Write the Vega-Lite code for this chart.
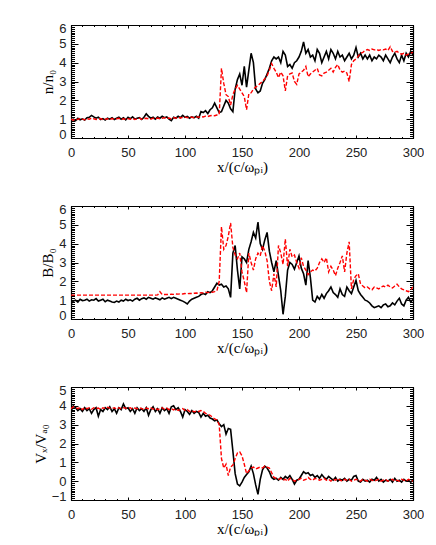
{
"$schema":"https://vega.github.io/schema/vega-lite/v6.json",
"padding":{"left":33,"top":22,"right":0,"bottom":0},
"background":"white",
"spacing":68,
"bounds":"flush",
"config":{"view":{"stroke":null},"axis":{"grid":false,"domainColor":"black","domainWidth":1.2,"tickColor":"black","tickWidth":1,"labelFont":"Liberation Sans","labelFontSize":13,"labelColor":"#222","labelOverlap":false,"titleFont":"Liberation Serif","titleFontSize":15,"titleFontWeight":"normal","titleColor":"black"}},
"data":{"values":[
{"x":0,"n":0.95,"nr":1.0,"b":0.8,"br":1.27,"v":3.7,"vr":3.85},
{"x":2,"n":1.0,"nr":0.95,"b":0.95,"br":1.27,"v":4.0,"vr":3.95},
{"x":4,"n":0.92,"nr":1.02,"b":1.0,"br":1.27,"v":3.9,"vr":3.9},
{"x":6,"n":1.05,"nr":0.98,"b":0.9,"br":1.27,"v":3.75,"vr":3.85},
{"x":8,"n":0.97,"nr":1.05,"b":1.05,"br":1.27,"v":3.85,"vr":3.92},
{"x":10,"n":1.02,"nr":1.0,"b":0.98,"br":1.27,"v":3.7,"vr":3.8},
{"x":12,"n":0.95,"nr":0.97,"b":1.0,"br":1.27,"v":3.9,"vr":3.9},
{"x":14,"n":1.08,"nr":1.03,"b":1.05,"br":1.27,"v":3.75,"vr":3.85},
{"x":16,"n":1.1,"nr":1.0,"b":0.95,"br":1.27,"v":3.85,"vr":3.9},
{"x":18,"n":1.2,"nr":1.05,"b":1.02,"br":1.27,"v":3.6,"vr":3.82},
{"x":20,"n":1.12,"nr":1.02,"b":1.0,"br":1.27,"v":3.8,"vr":3.9},
{"x":22,"n":1.05,"nr":0.98,"b":1.08,"br":1.27,"v":3.9,"vr":3.85},
{"x":24,"n":1.1,"nr":1.0,"b":0.95,"br":1.27,"v":3.45,"vr":3.88},
{"x":26,"n":0.98,"nr":1.03,"b":1.0,"br":1.27,"v":3.8,"vr":3.8},
{"x":28,"n":1.03,"nr":0.97,"b":1.05,"br":1.27,"v":3.7,"vr":3.9},
{"x":30,"n":0.95,"nr":1.0,"b":0.92,"br":1.27,"v":3.9,"vr":3.85},
{"x":32,"n":1.05,"nr":1.02,"b":1.0,"br":1.27,"v":3.8,"vr":3.92},
{"x":34,"n":1.0,"nr":0.98,"b":0.95,"br":1.27,"v":3.95,"vr":3.88},
{"x":36,"n":1.08,"nr":1.03,"b":0.9,"br":1.27,"v":3.7,"vr":3.85},
{"x":38,"n":0.98,"nr":1.0,"b":0.88,"br":1.27,"v":3.85,"vr":3.9},
{"x":40,"n":1.05,"nr":1.02,"b":0.95,"br":1.27,"v":3.6,"vr":3.82},
{"x":42,"n":1.1,"nr":1.05,"b":0.9,"br":1.27,"v":3.9,"vr":3.9},
{"x":44,"n":1.0,"nr":0.98,"b":1.0,"br":1.27,"v":3.8,"vr":3.85},
{"x":46,"n":1.08,"nr":1.02,"b":0.95,"br":1.27,"v":4.1,"vr":3.9},
{"x":48,"n":0.96,"nr":1.0,"b":1.05,"br":1.27,"v":3.85,"vr":3.88},
{"x":50,"n":1.1,"nr":1.03,"b":0.98,"br":1.27,"v":3.9,"vr":3.85},
{"x":52,"n":1.02,"nr":1.0,"b":1.02,"br":1.27,"v":3.7,"vr":3.9},
{"x":54,"n":1.12,"nr":1.05,"b":0.95,"br":1.27,"v":3.85,"vr":3.82},
{"x":56,"n":1.0,"nr":0.98,"b":1.05,"br":1.27,"v":3.6,"vr":3.88},
{"x":58,"n":1.05,"nr":1.02,"b":1.1,"br":1.27,"v":3.9,"vr":3.85},
{"x":60,"n":1.08,"nr":1.05,"b":1.0,"br":1.27,"v":3.75,"vr":3.9},
{"x":62,"n":0.98,"nr":1.0,"b":1.08,"br":1.27,"v":3.85,"vr":3.85},
{"x":64,"n":1.1,"nr":1.03,"b":1.12,"br":1.27,"v":3.7,"vr":3.8},
{"x":66,"n":1.28,"nr":1.05,"b":1.05,"br":1.27,"v":3.9,"vr":3.88},
{"x":68,"n":1.15,"nr":1.02,"b":1.15,"br":1.27,"v":3.5,"vr":3.85},
{"x":70,"n":1.05,"nr":1.0,"b":1.1,"br":1.27,"v":3.8,"vr":3.9},
{"x":72,"n":1.1,"nr":1.05,"b":1.05,"br":1.27,"v":3.95,"vr":3.82},
{"x":74,"n":1.0,"nr":1.02,"b":1.12,"br":1.27,"v":3.7,"vr":3.88},
{"x":76,"n":1.12,"nr":1.06,"b":1.08,"br":1.28,"v":3.85,"vr":3.8},
{"x":78,"n":1.05,"nr":1.02,"b":1.02,"br":1.45,"v":3.6,"vr":3.85},
{"x":80,"n":1.15,"nr":1.05,"b":1.12,"br":1.3,"v":3.9,"vr":3.9},
{"x":82,"n":1.08,"nr":1.08,"b":1.05,"br":1.3,"v":3.75,"vr":3.82},
{"x":84,"n":1.12,"nr":1.04,"b":1.1,"br":1.31,"v":3.85,"vr":3.88},
{"x":86,"n":1.0,"nr":1.06,"b":1.15,"br":1.3,"v":3.6,"vr":3.8},
{"x":88,"n":0.92,"nr":1.02,"b":1.08,"br":1.32,"v":3.95,"vr":3.85},
{"x":90,"n":1.1,"nr":1.08,"b":1.15,"br":1.31,"v":4.0,"vr":3.78},
{"x":92,"n":1.05,"nr":1.05,"b":1.1,"br":1.33,"v":3.8,"vr":3.85},
{"x":94,"n":1.15,"nr":1.1,"b":1.05,"br":1.32,"v":3.9,"vr":3.75},
{"x":96,"n":1.08,"nr":1.06,"b":1.0,"br":1.34,"v":3.7,"vr":3.8},
{"x":98,"n":1.2,"nr":1.1,"b":0.95,"br":1.33,"v":3.4,"vr":3.85},
{"x":100,"n":1.1,"nr":1.12,"b":0.88,"br":1.35,"v":3.8,"vr":3.75},
{"x":102,"n":1.15,"nr":1.08,"b":0.8,"br":1.34,"v":3.7,"vr":3.8},
{"x":104,"n":1.05,"nr":1.12,"b":0.95,"br":1.36,"v":3.55,"vr":3.7},
{"x":106,"n":1.12,"nr":1.1,"b":1.05,"br":1.35,"v":3.75,"vr":3.75},
{"x":108,"n":1.08,"nr":1.08,"b":1.1,"br":1.37,"v":3.6,"vr":3.68},
{"x":110,"n":1.15,"nr":1.12,"b":1.15,"br":1.38,"v":3.7,"vr":3.72},
{"x":112,"n":1.05,"nr":1.1,"b":1.2,"br":1.36,"v":3.65,"vr":3.7},
{"x":114,"n":1.4,"nr":1.14,"b":1.3,"br":1.4,"v":3.4,"vr":3.75},
{"x":116,"n":1.35,"nr":1.12,"b":1.35,"br":1.38,"v":3.6,"vr":3.7},
{"x":118,"n":1.45,"nr":1.16,"b":1.3,"br":1.42,"v":3.45,"vr":3.6},
{"x":120,"n":1.3,"nr":1.14,"b":1.45,"br":1.4,"v":3.5,"vr":3.55},
{"x":122,"n":1.5,"nr":1.18,"b":1.4,"br":1.43,"v":3.35,"vr":3.5},
{"x":124,"n":1.6,"nr":1.2,"b":1.5,"br":1.42,"v":3.3,"vr":3.4},
{"x":126,"n":1.85,"nr":1.18,"b":1.7,"br":1.45,"v":3.2,"vr":3.3},
{"x":128,"n":1.6,"nr":1.22,"b":1.9,"br":1.5,"v":3.25,"vr":3.25},
{"x":130,"n":1.35,"nr":1.25,"b":1.8,"br":2.0,"v":3.05,"vr":3.0},
{"x":132,"n":1.4,"nr":3.7,"b":1.85,"br":4.9,"v":2.9,"vr":1.2},
{"x":134,"n":1.7,"nr":2.9,"b":1.7,"br":3.7,"v":3.0,"vr":0.7},
{"x":136,"n":2.0,"nr":2.3,"b":1.75,"br":3.9,"v":2.5,"vr":0.9},
{"x":138,"n":1.85,"nr":2.2,"b":1.6,"br":4.4,"v":2.8,"vr":0.3},
{"x":140,"n":1.55,"nr":1.75,"b":1.15,"br":5.1,"v":2.75,"vr":0.75},
{"x":142,"n":1.4,"nr":2.3,"b":3.5,"br":3.8,"v":1.6,"vr":0.85},
{"x":144,"n":2.6,"nr":2.6,"b":3.9,"br":3.4,"v":0.4,"vr":1.2},
{"x":146,"n":3.1,"nr":2.8,"b":2.6,"br":3.2,"v":-0.15,"vr":1.5},
{"x":148,"n":3.4,"nr":2.6,"b":1.6,"br":3.5,"v":-0.25,"vr":1.55},
{"x":150,"n":2.8,"nr":2.4,"b":3.3,"br":2.5,"v":-0.05,"vr":1.35},
{"x":152,"n":3.8,"nr":2.2,"b":3.2,"br":2.0,"v":0.2,"vr":0.9},
{"x":154,"n":2.7,"nr":1.5,"b":3.0,"br":1.4,"v":0.35,"vr":0.4},
{"x":156,"n":3.6,"nr":2.35,"b":3.7,"br":3.5,"v":0.5,"vr":0.55},
{"x":158,"n":4.5,"nr":2.4,"b":4.1,"br":3.0,"v":0.8,"vr":0.7},
{"x":160,"n":4.0,"nr":2.6,"b":4.6,"br":2.6,"v":0.4,"vr":0.75},
{"x":162,"n":2.6,"nr":2.7,"b":4.3,"br":3.2,"v":-0.2,"vr":0.65},
{"x":164,"n":2.4,"nr":2.8,"b":5.15,"br":3.5,"v":-0.7,"vr":0.7},
{"x":166,"n":2.5,"nr":2.9,"b":4.0,"br":3.35,"v":0.1,"vr":0.75},
{"x":168,"n":2.9,"nr":3.0,"b":3.7,"br":3.9,"v":0.6,"vr":0.7},
{"x":170,"n":3.1,"nr":3.15,"b":4.2,"br":3.6,"v":0.8,"vr":0.8},
{"x":172,"n":3.4,"nr":3.3,"b":4.6,"br":3.1,"v":0.7,"vr":0.75},
{"x":174,"n":3.7,"nr":3.6,"b":3.6,"br":2.0,"v":0.5,"vr":0.7},
{"x":176,"n":4.1,"nr":3.95,"b":3.0,"br":1.5,"v":0.2,"vr":0.45},
{"x":178,"n":4.3,"nr":3.7,"b":2.5,"br":2.4,"v":0.1,"vr":0.2},
{"x":180,"n":4.2,"nr":3.5,"b":3.1,"br":1.7,"v":0.15,"vr":0.15},
{"x":182,"n":4.3,"nr":3.2,"b":2.3,"br":3.9,"v":0.05,"vr":0.1},
{"x":184,"n":4.0,"nr":3.5,"b":1.5,"br":3.5,"v":0.2,"vr":0.15},
{"x":186,"n":4.6,"nr":3.3,"b":0.25,"br":2.9,"v":0.1,"vr":0.05},
{"x":188,"n":4.4,"nr":2.5,"b":1.2,"br":4.25,"v":0.25,"vr":0.1},
{"x":190,"n":3.8,"nr":3.3,"b":2.6,"br":2.8,"v":0.15,"vr":0.0},
{"x":192,"n":3.9,"nr":3.4,"b":3.0,"br":3.7,"v":0.3,"vr":0.15},
{"x":194,"n":3.7,"nr":3.45,"b":2.9,"br":3.3,"v":0.1,"vr":0.1},
{"x":196,"n":4.0,"nr":3.0,"b":2.65,"br":3.4,"v":-0.15,"vr":0.0},
{"x":198,"n":4.1,"nr":2.85,"b":3.0,"br":3.0,"v":0.05,"vr":0.05},
{"x":200,"n":4.3,"nr":3.4,"b":3.35,"br":2.7,"v":0.1,"vr":0.1},
{"x":202,"n":4.6,"nr":3.5,"b":2.7,"br":3.25,"v":0.3,"vr":0.15},
{"x":204,"n":5.1,"nr":3.6,"b":2.4,"br":2.8,"v":0.5,"vr":0.05},
{"x":206,"n":4.5,"nr":3.8,"b":1.8,"br":2.6,"v":0.4,"vr":0.1},
{"x":208,"n":4.7,"nr":3.25,"b":3.1,"br":2.35,"v":0.45,"vr":0.2},
{"x":210,"n":4.3,"nr":3.4,"b":2.2,"br":2.5,"v":0.3,"vr":0.1},
{"x":212,"n":4.4,"nr":3.5,"b":1.0,"br":2.6,"v":0.35,"vr":0.05},
{"x":214,"n":4.1,"nr":3.6,"b":0.9,"br":2.55,"v":0.2,"vr":0.15},
{"x":216,"n":4.7,"nr":3.7,"b":1.2,"br":2.7,"v":0.3,"vr":0.1},
{"x":218,"n":4.5,"nr":3.35,"b":1.05,"br":3.0,"v":0.15,"vr":0.05},
{"x":220,"n":4.0,"nr":3.3,"b":1.3,"br":3.2,"v":0.35,"vr":0.1},
{"x":222,"n":4.3,"nr":3.45,"b":1.1,"br":3.0,"v":0.2,"vr":0.15},
{"x":224,"n":4.6,"nr":3.5,"b":1.35,"br":3.25,"v":0.1,"vr":0.05},
{"x":226,"n":4.2,"nr":3.6,"b":1.5,"br":2.5,"v":0.25,"vr":0.1},
{"x":228,"n":4.7,"nr":3.7,"b":1.7,"br":2.8,"v":0.15,"vr":0.0},
{"x":230,"n":4.5,"nr":3.5,"b":1.4,"br":2.6,"v":0.05,"vr":0.1},
{"x":232,"n":4.2,"nr":3.75,"b":1.3,"br":2.3,"v":0.2,"vr":0.05},
{"x":234,"n":4.6,"nr":3.9,"b":1.15,"br":2.7,"v":0.0,"vr":0.15},
{"x":236,"n":4.3,"nr":3.6,"b":1.6,"br":3.0,"v":0.1,"vr":0.05},
{"x":238,"n":4.4,"nr":3.5,"b":1.3,"br":3.35,"v":0.05,"vr":0.0},
{"x":240,"n":4.1,"nr":3.55,"b":1.2,"br":2.5,"v":0.15,"vr":0.1},
{"x":242,"n":4.3,"nr":3.45,"b":1.7,"br":3.5,"v":0.0,"vr":0.05},
{"x":244,"n":4.5,"nr":3.0,"b":1.5,"br":4.1,"v":0.1,"vr":0.1},
{"x":246,"n":4.2,"nr":3.9,"b":1.35,"br":1.6,"v":0.05,"vr":0.0},
{"x":248,"n":4.4,"nr":4.1,"b":1.7,"br":2.1,"v":0.25,"vr":0.05},
{"x":250,"n":4.8,"nr":4.2,"b":2.05,"br":2.3,"v":0.3,"vr":0.1},
{"x":252,"n":4.3,"nr":4.35,"b":1.5,"br":2.4,"v":0.0,"vr":0.05},
{"x":254,"n":4.5,"nr":4.5,"b":1.3,"br":1.85,"v":-0.05,"vr":0.0},
{"x":256,"n":4.2,"nr":4.55,"b":1.15,"br":1.75,"v":0.1,"vr":0.1},
{"x":258,"n":4.4,"nr":4.65,"b":1.0,"br":1.65,"v":0.0,"vr":0.05},
{"x":260,"n":4.2,"nr":4.7,"b":0.95,"br":1.7,"v":0.05,"vr":0.0},
{"x":262,"n":4.4,"nr":4.65,"b":0.85,"br":1.6,"v":-0.05,"vr":0.1},
{"x":264,"n":4.1,"nr":4.72,"b":0.7,"br":1.55,"v":0.1,"vr":0.05},
{"x":266,"n":4.3,"nr":4.68,"b":0.6,"br":1.7,"v":0.05,"vr":0.0},
{"x":268,"n":4.2,"nr":4.7,"b":0.65,"br":1.65,"v":0.2,"vr":0.05},
{"x":270,"n":4.4,"nr":4.65,"b":0.7,"br":1.6,"v":0.0,"vr":0.1},
{"x":272,"n":4.3,"nr":4.7,"b":0.6,"br":1.7,"v":0.1,"vr":0.0},
{"x":274,"n":4.1,"nr":4.68,"b":0.75,"br":1.75,"v":-0.05,"vr":0.05},
{"x":276,"n":4.4,"nr":4.72,"b":0.8,"br":1.7,"v":0.05,"vr":0.1},
{"x":278,"n":4.2,"nr":4.65,"b":0.65,"br":1.8,"v":0.0,"vr":0.0},
{"x":280,"n":4.0,"nr":4.85,"b":0.7,"br":1.7,"v":0.1,"vr":0.05},
{"x":282,"n":4.3,"nr":4.6,"b":0.85,"br":1.65,"v":-0.05,"vr":0.1},
{"x":284,"n":4.5,"nr":4.55,"b":0.75,"br":1.75,"v":0.15,"vr":0.0},
{"x":286,"n":4.2,"nr":4.6,"b":0.95,"br":1.85,"v":0.0,"vr":0.05},
{"x":288,"n":4.0,"nr":4.5,"b":1.1,"br":1.7,"v":0.05,"vr":0.0},
{"x":290,"n":4.4,"nr":4.45,"b":0.8,"br":1.6,"v":-0.05,"vr":0.1},
{"x":292,"n":4.1,"nr":4.5,"b":0.7,"br":1.55,"v":0.1,"vr":0.05},
{"x":294,"n":4.5,"nr":4.4,"b":1.0,"br":1.5,"v":0.0,"vr":0.0},
{"x":296,"n":4.3,"nr":4.45,"b":1.15,"br":1.45,"v":0.05,"vr":0.1},
{"x":298,"n":4.6,"nr":4.5,"b":0.9,"br":1.55,"v":-0.05,"vr":0.05},
{"x":300,"n":4.4,"nr":4.55,"b":1.05,"br":1.7,"v":0.05,"vr":0.0}
]},
"vconcat":[
{"width":342,"height":113,
 "resolve":{"axis":{"x":"independent","y":"independent"}},
 "layer":[
  {"mark":{"type":"line","color":"black","strokeWidth":1.6,"clip":true},
   "encoding":{
    "x":{"field":"x","type":"quantitative","scale":{"domain":[0,300],"nice":false,"zero":false},"axis":{"orient":"bottom","values":[0,50,100,150,200,250,300],"tickSize":-3,"labelPadding":11,"labelFlush":false,"title":"x/(c/ωₚᵢ)","titlePadding":0}},
    "y":{"field":"n","type":"quantitative","scale":{"domain":[0,6],"nice":false,"zero":false},"axis":{"orient":"left","values":[0,1,2,3,4,5,6],"tickSize":-7,"labelPadding":12,"labelFlush":true,"labelFlushOffset":3,"title":"n/n₀","titlePadding":3}}}},
  {"mark":{"type":"line","color":"#ff0000","strokeWidth":1.4,"strokeDash":[4,2],"clip":true},
   "encoding":{
    "x":{"field":"x","type":"quantitative","scale":{"domain":[0,300],"nice":false,"zero":false},"axis":{"orient":"top","values":[0,50,100,150,200,250,300],"tickSize":-3,"labels":false,"title":null}},
    "y":{"field":"nr","type":"quantitative","scale":{"domain":[0,6],"nice":false,"zero":false},"axis":{"orient":"right","values":[0,1,2,3,4,5,6],"tickSize":-7,"labels":false,"title":null}}}},
  {"mark":{"type":"line","opacity":0},
   "encoding":{
    "x":{"field":"x","type":"quantitative","scale":{"domain":[0,300],"nice":false,"zero":false},"axis":{"orient":"bottom","tickCount":30,"tickSize":-1.5,"labels":false,"domain":false,"title":null}},
    "y":{"field":"n","type":"quantitative","scale":{"domain":[0,6],"nice":false,"zero":false},"axis":{"orient":"left","tickCount":60,"tickSize":-3.5,"labels":false,"domain":false,"title":null}}}},
  {"mark":{"type":"line","opacity":0},
   "encoding":{
    "x":{"field":"x","type":"quantitative","scale":{"domain":[0,300],"nice":false,"zero":false},"axis":{"orient":"top","tickCount":30,"tickSize":-1.5,"labels":false,"domain":false,"title":null}},
    "y":{"field":"n","type":"quantitative","scale":{"domain":[0,6],"nice":false,"zero":false},"axis":{"orient":"right","tickCount":60,"tickSize":-3.5,"labels":false,"domain":false,"title":null}}}}
 ]},
{"width":342,"height":113,
 "resolve":{"axis":{"x":"independent","y":"independent"}},
 "layer":[
  {"mark":{"type":"line","color":"black","strokeWidth":1.6,"clip":true},
   "encoding":{
    "x":{"field":"x","type":"quantitative","scale":{"domain":[0,300],"nice":false,"zero":false},"axis":{"orient":"bottom","values":[0,50,100,150,200,250,300],"tickSize":-3,"labelPadding":11,"labelFlush":false,"title":"x/(c/ωₚᵢ)","titlePadding":0}},
    "y":{"field":"b","type":"quantitative","scale":{"domain":[0,6],"nice":false,"zero":false},"axis":{"orient":"left","values":[0,1,2,3,4,5,6],"tickSize":-7,"labelPadding":12,"labelFlush":true,"labelFlushOffset":3,"title":"B/B₀","titlePadding":3}}}},
  {"mark":{"type":"line","color":"#ff0000","strokeWidth":1.4,"strokeDash":[4,2],"clip":true},
   "encoding":{
    "x":{"field":"x","type":"quantitative","scale":{"domain":[0,300],"nice":false,"zero":false},"axis":{"orient":"top","values":[0,50,100,150,200,250,300],"tickSize":-3,"labels":false,"title":null}},
    "y":{"field":"br","type":"quantitative","scale":{"domain":[0,6],"nice":false,"zero":false},"axis":{"orient":"right","values":[0,1,2,3,4,5,6],"tickSize":-7,"labels":false,"title":null}}}},
  {"mark":{"type":"line","opacity":0},
   "encoding":{
    "x":{"field":"x","type":"quantitative","scale":{"domain":[0,300],"nice":false,"zero":false},"axis":{"orient":"bottom","tickCount":30,"tickSize":-1.5,"labels":false,"domain":false,"title":null}},
    "y":{"field":"b","type":"quantitative","scale":{"domain":[0,6],"nice":false,"zero":false},"axis":{"orient":"left","tickCount":60,"tickSize":-3.5,"labels":false,"domain":false,"title":null}}}},
  {"mark":{"type":"line","opacity":0},
   "encoding":{
    "x":{"field":"x","type":"quantitative","scale":{"domain":[0,300],"nice":false,"zero":false},"axis":{"orient":"top","tickCount":30,"tickSize":-1.5,"labels":false,"domain":false,"title":null}},
    "y":{"field":"b","type":"quantitative","scale":{"domain":[0,6],"nice":false,"zero":false},"axis":{"orient":"right","tickCount":60,"tickSize":-3.5,"labels":false,"domain":false,"title":null}}}}
 ]},
{"width":342,"height":113,
 "resolve":{"axis":{"x":"independent","y":"independent"}},
 "layer":[
  {"mark":{"type":"line","color":"black","strokeWidth":1.6,"clip":true},
   "encoding":{
    "x":{"field":"x","type":"quantitative","scale":{"domain":[0,300],"nice":false,"zero":false},"axis":{"orient":"bottom","values":[0,50,100,150,200,250,300],"tickSize":-3,"labelPadding":11,"labelFlush":false,"title":"x/(c/ωₚᵢ)","titlePadding":0}},
    "y":{"field":"v","type":"quantitative","scale":{"domain":[-1,5],"nice":false,"zero":false},"axis":{"orient":"left","values":[-1,0,1,2,3,4,5],"tickSize":-7,"labelPadding":12,"labelFlush":true,"labelFlushOffset":3,"title":"Vₓ/Vₐ₀","titlePadding":3}}}},
  {"mark":{"type":"line","color":"#ff0000","strokeWidth":1.4,"strokeDash":[4,2],"clip":true},
   "encoding":{
    "x":{"field":"x","type":"quantitative","scale":{"domain":[0,300],"nice":false,"zero":false},"axis":{"orient":"top","values":[0,50,100,150,200,250,300],"tickSize":-3,"labels":false,"title":null}},
    "y":{"field":"vr","type":"quantitative","scale":{"domain":[-1,5],"nice":false,"zero":false},"axis":{"orient":"right","values":[-1,0,1,2,3,4,5],"tickSize":-7,"labels":false,"title":null}}}},
  {"mark":{"type":"line","opacity":0},
   "encoding":{
    "x":{"field":"x","type":"quantitative","scale":{"domain":[0,300],"nice":false,"zero":false},"axis":{"orient":"bottom","tickCount":30,"tickSize":-1.5,"labels":false,"domain":false,"title":null}},
    "y":{"field":"v","type":"quantitative","scale":{"domain":[-1,5],"nice":false,"zero":false},"axis":{"orient":"left","tickCount":60,"tickSize":-3.5,"labels":false,"domain":false,"title":null}}}},
  {"mark":{"type":"line","opacity":0},
   "encoding":{
    "x":{"field":"x","type":"quantitative","scale":{"domain":[0,300],"nice":false,"zero":false},"axis":{"orient":"top","tickCount":30,"tickSize":-1.5,"labels":false,"domain":false,"title":null}},
    "y":{"field":"v","type":"quantitative","scale":{"domain":[-1,5],"nice":false,"zero":false},"axis":{"orient":"right","tickCount":60,"tickSize":-3.5,"labels":false,"domain":false,"title":null}}}}
 ]}
]
}
